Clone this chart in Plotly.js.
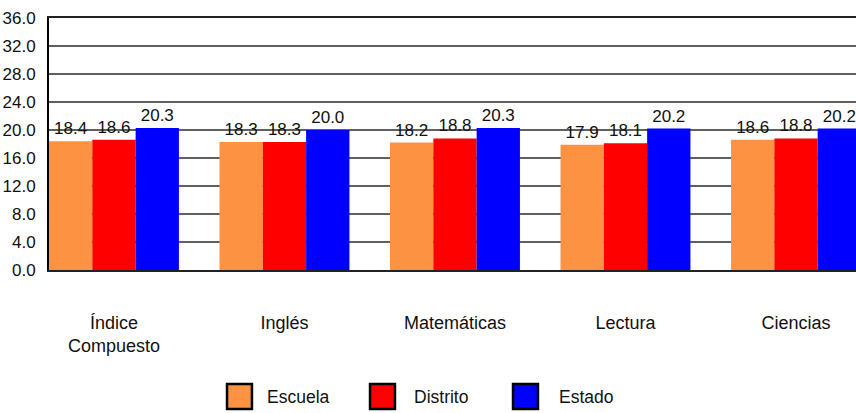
<!DOCTYPE html>
<html>
<head>
<meta charset="utf-8">
<script src="https://cdn.plot.ly/plotly-3.0.1.min.js"></script>
<style>html,body{margin:0;padding:0;background:#fff;}#chart{width:856px;height:413px;}</style>
</head>
<body>
<div id="chart"></div>
<script>
const categories = ["Índice<br>Compuesto", "Inglés", "Matemáticas", "Lectura", "Ciencias"];
const seriesNames = ["Escuela", "Distrito", "Estado"];
const escuela = [18.4, 18.3, 18.2, 17.9, 18.6];
const distrito = [18.6, 18.3, 18.8, 18.1, 18.8];
const estado = [20.3, 20.0, 20.3, 20.2, 20.2];
const yTicks = [0, 4, 8, 12, 16, 20, 24, 28, 32, 36];
const colors = ["#FD9243", "#FF0000", "#0000FF"];

const FONT = "Liberation Sans, Arial, sans-serif";
const seriesValues = [escuela, distrito, estado];

const traces = seriesValues.map((vals, i) => ({
  type: "bar",
  name: seriesNames[i],
  x: categories,
  y: vals,
  marker: {color: colors[i], line: {width: 0}},
  text: vals.map(v => v.toFixed(1)),
  textposition: "outside",
  textfont: {family: FONT, size: 17, color: "#111"},
  cliponaxis: false,
  showlegend: false,
  hoverinfo: "x+y"
}));

// legend drawn as shapes + text (big square swatches)
const legendPos = [
  {x0: 0.2206, x1: 0.2515, tx: 0.2677},
  {x0: 0.3978, x1: 0.4287, tx: 0.4498},
  {x0: 0.5750, x1: 0.6059, tx: 0.6295}
];
const shapes = legendPos.map((p, i) => ({
  type: "rect", xref: "paper", yref: "paper",
  x0: p.x0, x1: p.x1, y0: -0.4524, y1: -0.5516,
  fillcolor: colors[i], line: {color: "#000", width: 2.5}
}));
const annotations = legendPos.map((p, i) => ({
  xref: "paper", yref: "paper", x: p.tx, y: -0.503,
  xanchor: "left", yanchor: "middle", showarrow: false,
  text: seriesNames[i], font: {family: FONT, size: 17.5, color: "#111"}
}));

const layout = {
  width: 856, height: 413,
  margin: {l: 49, r: 0, t: 18, b: 143, pad: 0},
  paper_bgcolor: "#fff", plot_bgcolor: "#fff",
  barmode: "group", bargap: 0.238, bargroupgap: 0,
  font: {family: FONT, size: 17, color: "#111"},
  xaxis: {
    type: "category",
    range: [-0.381, 4.352],
    showgrid: false, zeroline: false,
    showline: true, mirror: true, linecolor: "#222", linewidth: 2,
    ticks: "", ticklabelstandoff: 35,
    tickfont: {family: FONT, size: 18, color: "#111"},
    fixedrange: true
  },
  yaxis: {
    range: [0, 36],
    tickmode: "array", tickvals: yTicks,
    ticktext: yTicks.map(v => v.toFixed(1)),
    showgrid: true, gridcolor: "#606060", gridwidth: 1.5,
    zeroline: false,
    showline: true, linecolor: "#000", linewidth: 2,
    ticks: "", ticklabelstandoff: 8,
    tickfont: {family: FONT, size: 17, color: "#111"},
    fixedrange: true
  },
  shapes: shapes,
  annotations: annotations
};

Plotly.newPlot("chart", traces, layout, {displayModeBar: false, staticPlot: true});
</script>
</body>
</html>
